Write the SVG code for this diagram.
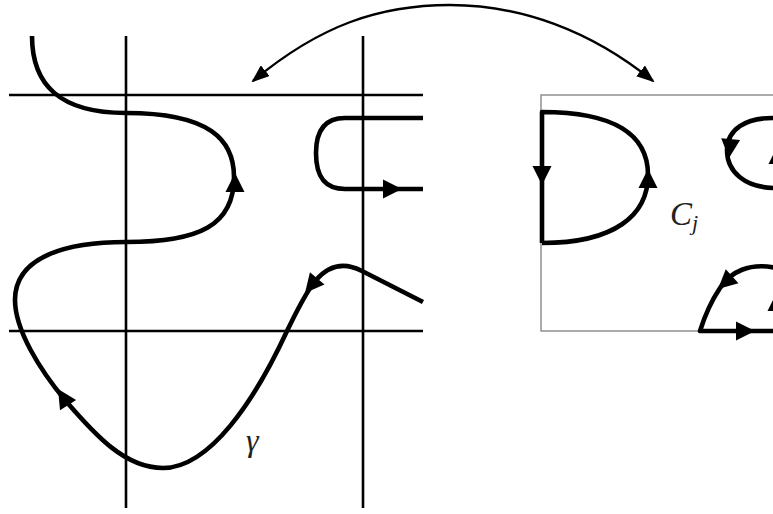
<svg xmlns="http://www.w3.org/2000/svg" xmlns:xlink="http://www.w3.org/1999/xlink" width="773" height="514" viewBox="0 0 773 514">
<style>
.grid{stroke:#000;stroke-width:2.6;fill:none}
.curve{stroke:#000;stroke-width:4.6;fill:none;stroke-linejoin:round}
.thin{stroke:#000;stroke-width:2.4;fill:none}
.frame{stroke:#888;stroke-width:1.4;fill:none}
.lbl{font-family:"Liberation Serif","DejaVu Serif",serif;font-style:italic;fill:#222}
</style>
<defs>
<path id="tri" d="M0,0 L-19,-9.5 L-19,9.5 Z" fill="#000"/>
<marker id="ah" viewBox="0 0 18 14" refX="16" refY="7" markerWidth="18" markerHeight="14" markerUnits="userSpaceOnUse" orient="auto-start-reverse">
<path d="M0,0 L18,7 L0,14 Z" fill="#000"/>
</marker>
</defs>
<g id="grid">
<line class="grid" x1="126" y1="36" x2="126" y2="508"/>
<line class="grid" x1="363" y1="36" x2="363" y2="508"/>
<line class="grid" x1="9" y1="95" x2="423" y2="95"/>
<line class="grid" x1="9" y1="331" x2="423" y2="331"/>
</g>
<g id="gamma">
<path class="curve" d="M423,302 L362,271 C345,262 330,264 316,280 C305,293 295,315 287,331 C255,400 210,468 163,468 C125,468 95,435 65,400 C40,370 15,330 15,300 C15,255 70,242 126,242 C200,242 234,225 234,177 C234,140 210,113 126,113 C60,113 32,85 32,36"/>
<use xlink:href="#tri" transform="translate(235,173) rotate(-90)"/>
<use xlink:href="#tri" transform="translate(305,293) rotate(130)"/>
<use xlink:href="#tri" transform="translate(58,389) rotate(-122)"/>
<text class="lbl" x="246" y="451" font-size="32">γ</text>
</g>
<g id="loop-right">
<path class="curve" d="M423,118 L345,118 C325,118 316,130 316,153 C316,177 325,189 345,189 L423,189"/>
<use xlink:href="#tri" transform="translate(402,189)"/>
</g>
<g id="panel">
<rect class="frame" x="541" y="95" width="300" height="236"/>
</g>
<g id="Cj">
<path class="curve" d="M542,243 L542,112 C615,112 648,135 648,175 C648,215 615,243 542,243"/>
<use xlink:href="#tri" transform="translate(542,185) rotate(90)"/>
<use xlink:href="#tri" transform="translate(648,169) rotate(-90)"/>
<text class="lbl" x="670" y="225" font-size="33">C<tspan font-size="22" dy="5">j</tspan></text>
</g>
<g id="upper-right">
<path class="curve" d="M776,118 C745,117 727,130 727,150 C727,172 745,188 776,188"/>
<use xlink:href="#tri" transform="translate(729,158) rotate(95)"/>
<use xlink:href="#tri" transform="translate(778,145) rotate(-90)"/>
</g>
<g id="lower-right">
<path class="curve" d="M776,268 C750,262 730,272 720,288 C712,300 705,315 700,331 L776,331"/>
<use xlink:href="#tri" transform="translate(718,289) rotate(138)"/>
<use xlink:href="#tri" transform="translate(755,331)"/>
<use xlink:href="#tri" transform="translate(777,292) rotate(-90)"/>
</g>
<g id="connectors">
<path class="thin" d="M253,81 C320,25 380,5 450,5 C520,5 590,30 653,81" marker-start="url(#ah)" marker-end="url(#ah)"/>
</g>
</svg>
